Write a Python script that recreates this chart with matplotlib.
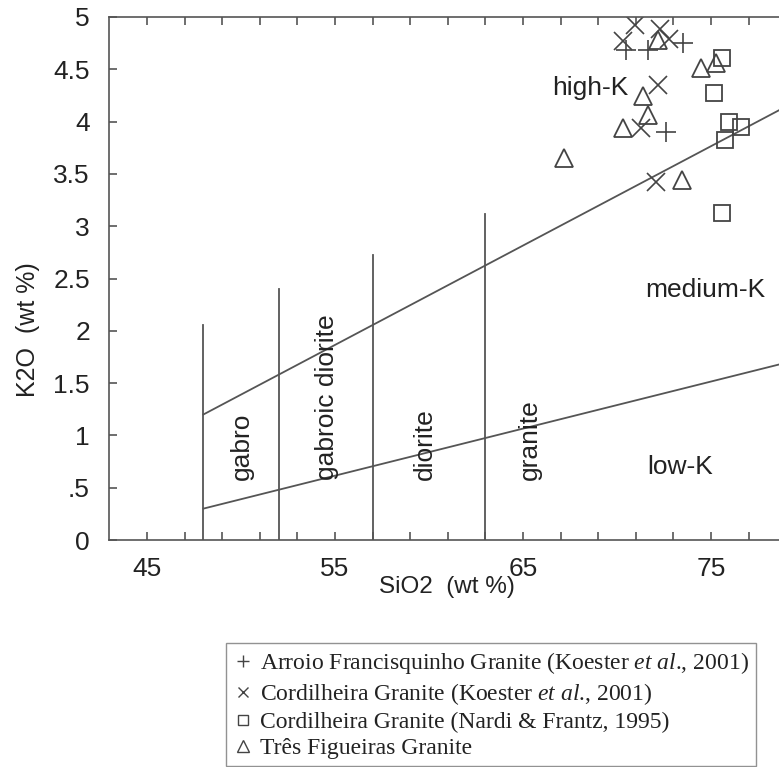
import matplotlib
matplotlib.use("Agg")
import matplotlib.pyplot as plt
from matplotlib.lines import Line2D

plt.rcParams['font.family'] = ['Liberation Sans', 'DejaVu Sans']
plt.rcParams['mathtext.fontset'] = 'custom'
plt.rcParams['mathtext.rm'] = 'Liberation Serif'
plt.rcParams['mathtext.it'] = 'Liberation Serif:italic'

# ---- data ----
plus_sio2 = [70.5, 71.65, 73.5, 72.6]
plus_k2o = [4.68, 4.68, 4.75, 3.90]

cross_sio2 = [70.96, 70.3, 72.3, 72.77, 72.2, 71.3, 72.1]
cross_k2o = [4.92, 4.77, 4.89, 4.79, 4.35, 3.94, 3.42]

square_sio2 = [75.6, 75.16, 75.96, 76.6, 75.74, 75.6]
square_k2o = [4.61, 4.27, 4.00, 3.95, 3.82, 3.13]

tri_sio2 = [72.2, 74.47, 75.27, 71.4, 71.65, 70.3, 67.18, 73.46]
tri_k2o = [4.78, 4.51, 4.56, 4.24, 4.06, 3.94, 3.65, 3.44]

series_labels = [
    r"Arroio Francisquinho Granite (Koester $\mathit{et\ al}$., 2001)",
    r"Cordilheira Granite (Koester $\mathit{et\ al}$., 2001)",
    "Cordilheira Granite (Nardi & Frantz, 1995)",
    "Três Figueiras Granite",
]

# field boundaries
div_sio2 = [48, 52, 57, 63]
div_top = [2.06, 2.40, 2.72, 3.12]
highk_sio2 = [48, 80]
highk_k2o = [1.2, 4.24]
lowk_sio2 = [48, 80]
lowk_k2o = [0.3, 1.74]

rock_names = ["gabro", "gabroic diorite", "diorite", "granite"]
rock_x = [50.05, 54.57, 59.8, 65.37]
rock_y = 0.57

series_names = ["high-K", "medium-K", "low-K"]
series_x = [68.6, 74.7, 73.35]
series_y = [4.32, 2.39, 0.70]

x_ticks = list(range(45, 79, 2))
x_ticklabels = ["45" if t == 45 else "55" if t == 55 else "65" if t == 65 else "75" if t == 75 else "" for t in x_ticks]
y_ticks = [0, 0.5, 1, 1.5, 2, 2.5, 3, 3.5, 4, 4.5, 5]
y_ticklabels = ["0", ".5", "1", "1.5", "2", "2.5", "3", "3.5", "4", "4.5", "5"]

# ---- figure ----
W, H = 779, 767
fig = plt.figure(figsize=(W / 100, H / 100), dpi=100)
left_px, right_px, bottom_px, top_px = 109.4, 805.0, 540.0, 17.0
ax = fig.add_axes([left_px / W, 1 - bottom_px / H, (right_px - left_px) / W, (bottom_px - top_px) / H])
ax.set_xlim(43, 80)
ax.set_ylim(0, 5)

lc = '#555555'
mc = '#444444'
for s in ax.spines.values():
    s.set_color(lc)
    s.set_linewidth(1.2)

ax.set_xticks(x_ticks)
ax.set_xticklabels(x_ticklabels)
ax.set_yticks(y_ticks)
ax.set_yticklabels(y_ticklabels)
ax.tick_params(axis='x', direction='in', top=True, length=6, width=1.2, color=lc,
               labelsize=19, pad=12, labelcolor='#222222')
ax.tick_params(axis='y', direction='in', right=False, length=6, width=1.2, color=lc,
               labelsize=19, pad=14, labelcolor='#222222')

# boundaries
for xv, top in zip(div_sio2, div_top):
    ax.plot([xv, xv], [0, top], color=lc, lw=1.3)
ax.plot(highk_sio2, highk_k2o, color=lc, lw=1.3)
ax.plot(lowk_sio2, lowk_k2o, color=lc, lw=1.3)

# data
h1, = ax.plot(plus_sio2, plus_k2o, ls='none', marker='+', ms=14, mew=1.2, color=mc)
h2, = ax.plot(cross_sio2, cross_k2o, ls='none', marker='x', ms=13, mew=1.2, color=mc)
h3, = ax.plot(square_sio2, square_k2o, ls='none', marker='s', ms=12, mew=1.3, mfc='none', mec=mc)
h4, = ax.plot(tri_sio2, tri_k2o, ls='none', marker='^', ms=13, mew=1.3, mfc='none', mec=mc)

for name, xv in zip(rock_names, rock_x):
    ax.text(xv, rock_y, name, rotation=90, rotation_mode='anchor', ha='left', va='center',
            fontsize=19, color='#222222')
for name, xv, yv in zip(series_names, series_x, series_y):
    ax.text(xv, yv, name, ha='center', va='center', fontsize=19, color='#222222')

fig.text(447 / W, 1 - 587 / H, "SiO2  (wt %)", ha='center', va='center', fontsize=17.5,
         color='#222222')
fig.text(28 / W, 1 - 330 / H, "K2O  (wt %)", ha='center', va='center', fontsize=18, rotation=90,
         color='#222222')

# legend
lh = [Line2D([], [], ls='none', marker='+', ms=8, mew=1.0, color=mc),
      Line2D([], [], ls='none', marker='x', ms=7.5, mew=1.0, color=mc),
      Line2D([], [], ls='none', marker='s', ms=7.5, mew=1.0, mfc='none', mec=mc),
      Line2D([], [], ls='none', marker='^', ms=8.5, mew=1.0, mfc='none', mec=mc)]
leg = fig.legend(lh, series_labels, loc='upper left', bbox_to_anchor=(226 / W, 1 - 643 / H),
                 prop={'family': 'Liberation Serif', 'size': 17}, frameon=True, fancybox=False,
                 edgecolor='#777777', handlelength=0.8, handletextpad=0.35, borderpad=0.3,
                 labelspacing=0.2, borderaxespad=0)
leg.get_frame().set_linewidth(1.0)
for t in leg.get_texts():
    t.set_color('#222222')

fig.savefig("out.png", dpi=100)
